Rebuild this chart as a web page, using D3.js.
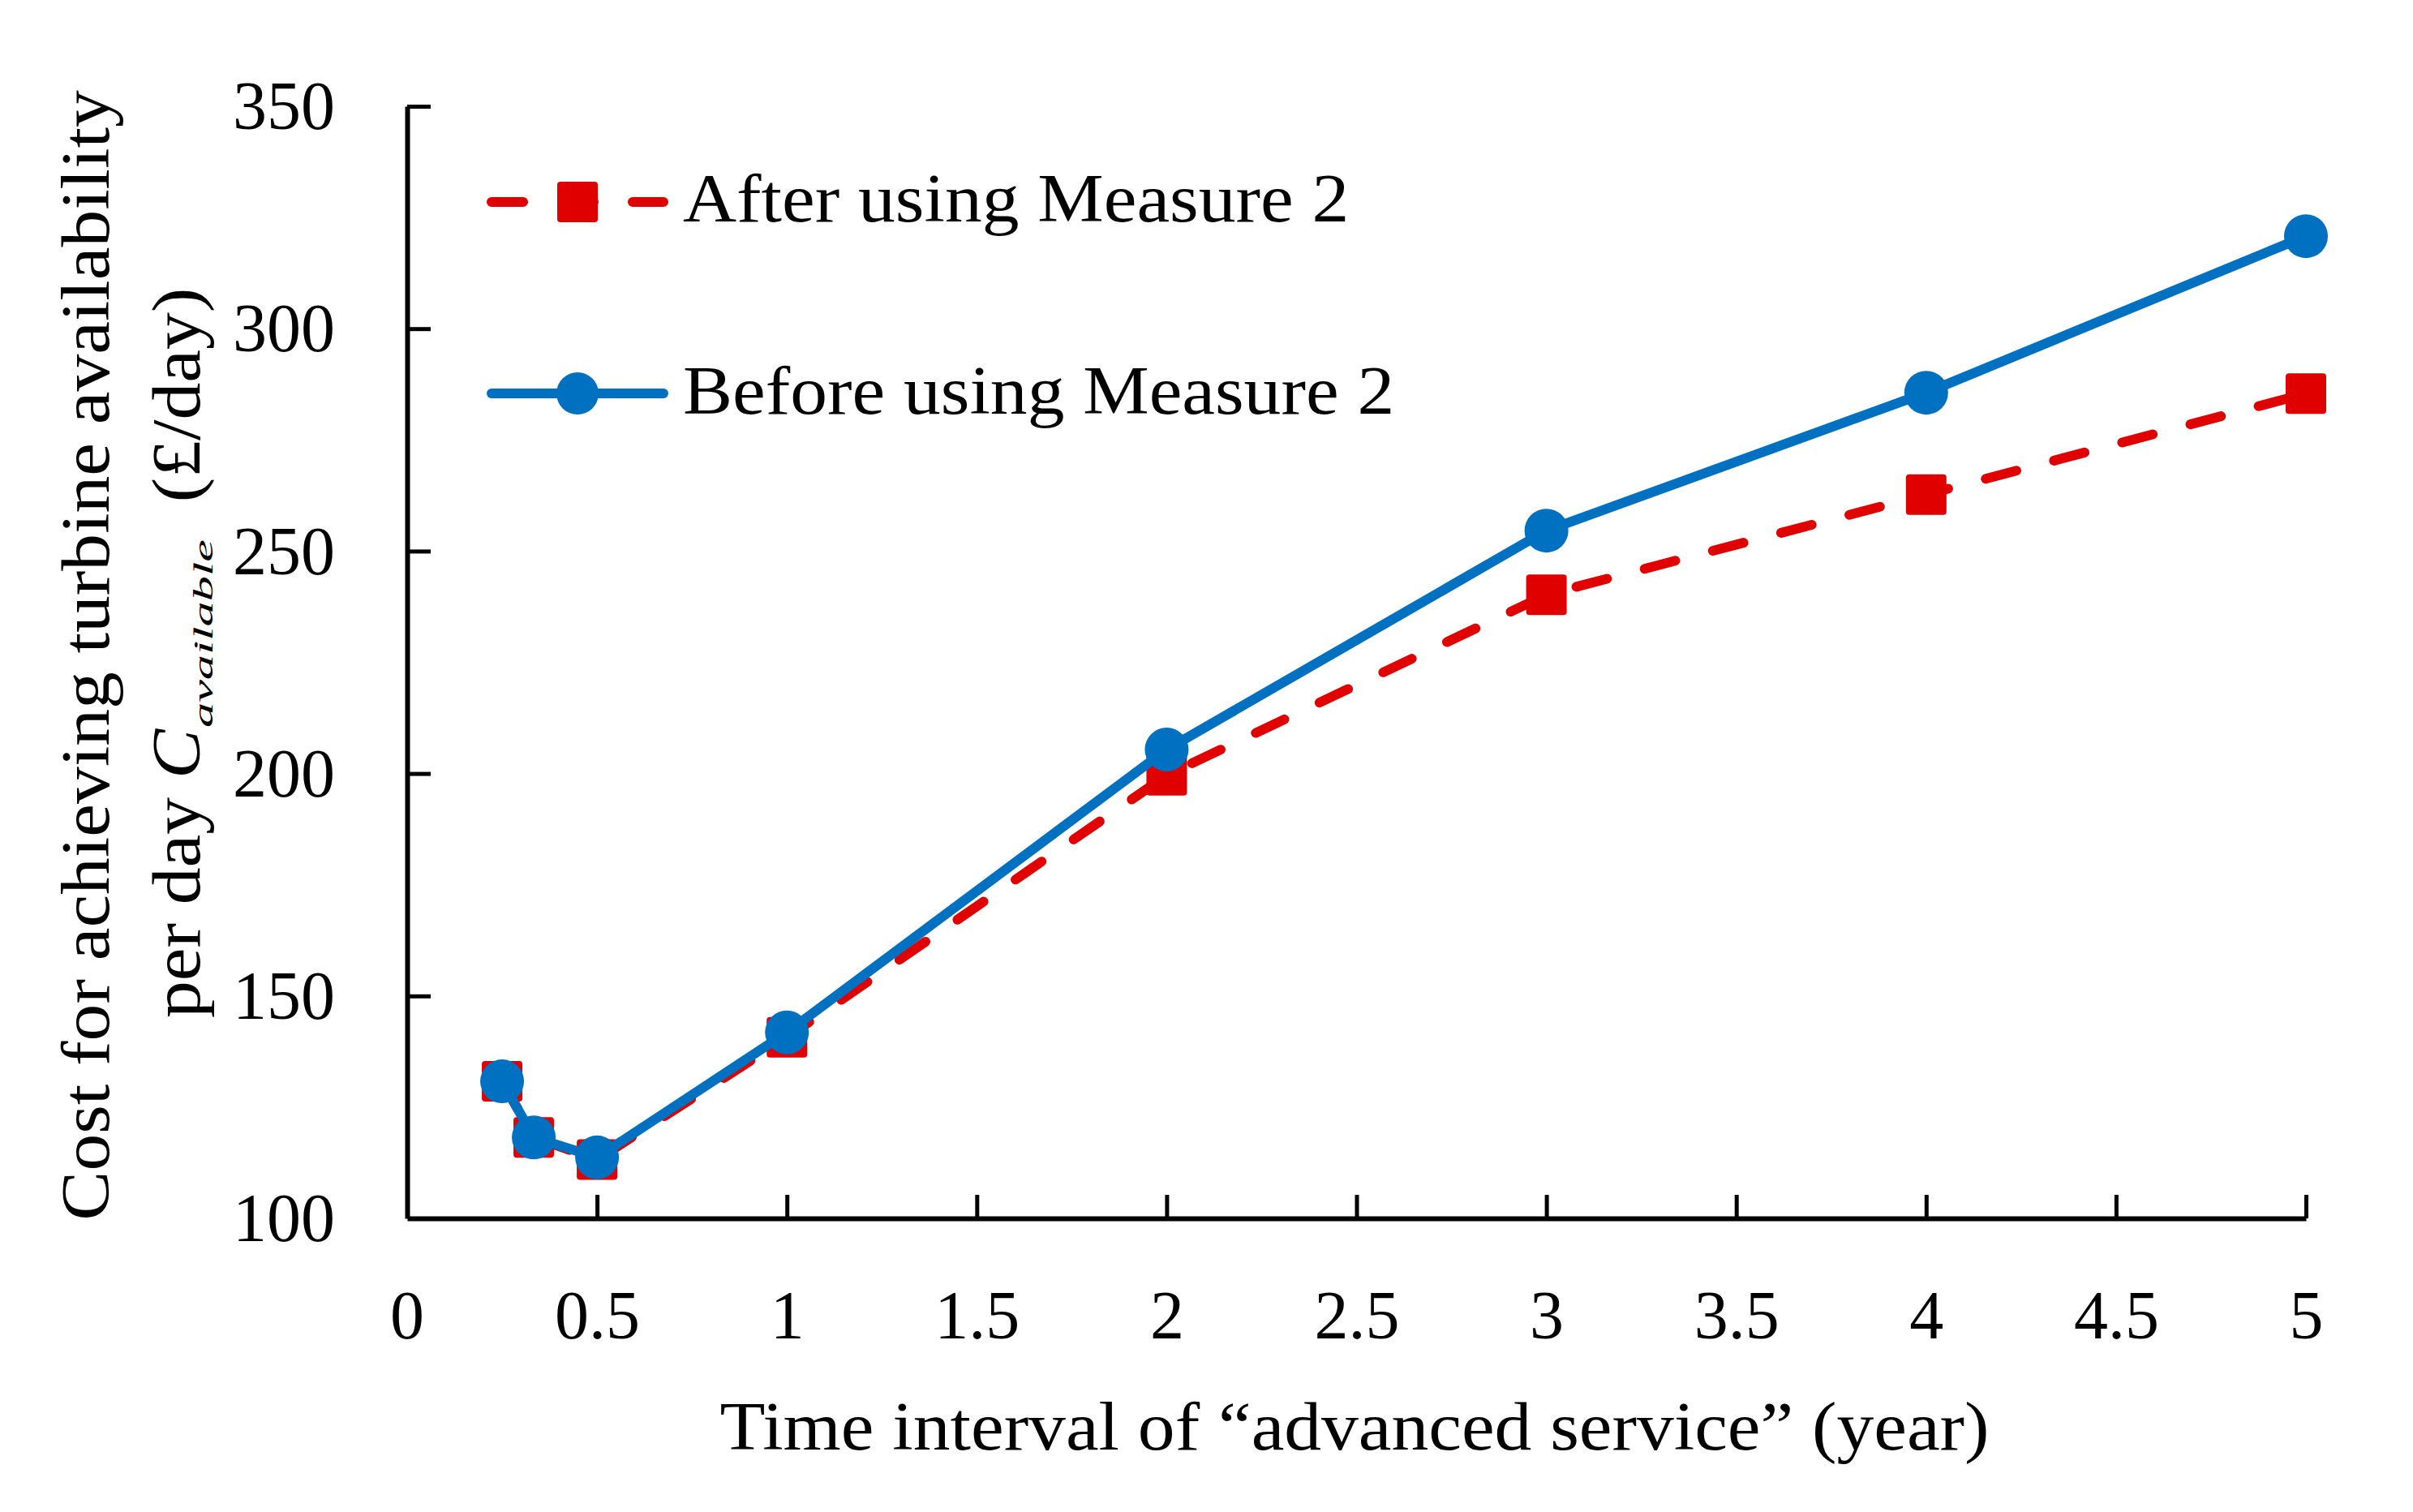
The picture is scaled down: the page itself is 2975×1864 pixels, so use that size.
<!DOCTYPE html>
<html>
<head>
<meta charset="utf-8">
<script src="https://cdn.jsdelivr.net/npm/d3@7"></script>
<style>
  body { margin: 0; background: #fff; }
  svg text { font-family: "Liberation Serif", "Times New Roman", serif; fill: #000; }
</style>
</head>
<body>
<div id="chart"></div>
<script>
// data
const intervals = [0.25, 1 / 3, 0.5, 1, 2, 3, 4, 5];
const afterMeasure = [130.8, 118.2, 113.2, 140.7, 199.6, 240.2, 262.7, 285.4];
const beforeMeasure = [130.8, 118.2, 113.7, 141.8, 205.4, 254.6, 285.6, 320.8];
const xTicks = [0.5, 1, 1.5, 2, 2.5, 3, 3.5, 4, 4.5, 5];
const yTicks = [100, 150, 200, 250, 300, 350];
const seriesNames = ["After using Measure 2", "Before using Measure 2"];

const W = 2975, H = 1864;
const RED = "#e00000", BLUE = "#0070c0";
const FS = 84;
const WIDEN = 1.09; // original font (Palatino) runs wider than Times

// stretch a text horizontally, keeping its height
function widen(sel, f = WIDEN) {
  const w = sel.node().getComputedTextLength();
  sel.attr("textLength", w * f).attr("lengthAdjust", "spacingAndGlyphs");
  return w * f;
}

const svg = d3.select("#chart").append("svg")
  .attr("width", W).attr("height", H);

const x = d3.scaleLinear().domain([0, 5]).range([502, 2843]);
const y = d3.scaleLinear().domain([100, 350]).range([1502, 131]);

// axes
const xAxis = svg.append("g")
  .attr("transform", `translate(0,${y(100)})`)
  .call(d3.axisBottom(x).tickValues(xTicks).tickSizeInner(-29).tickSizeOuter(0)
    .tickPadding(0).tickFormat(d => d));
const yAxis = svg.append("g")
  .attr("transform", `translate(${x(0)},0)`)
  .call(d3.axisLeft(y).tickValues(yTicks).tickSizeInner(-29).tickSizeOuter(0)
    .tickPadding(89));

[xAxis, yAxis].forEach(g => {
  g.select(".domain").attr("stroke", "#000").attr("stroke-width", 6);
  g.selectAll(".tick line").attr("stroke", "#000").attr("stroke-width", 5);
  g.selectAll(".tick text").attr("font-size", FS).style("font-family", null);
});
xAxis.selectAll(".tick text").attr("y", 148).attr("dy", null);
yAxis.selectAll(".tick text").attr("dy", "0.33em");
// 0 label under the corner
xAxis.append("text").attr("x", x(0)).attr("y", 148)
  .attr("text-anchor", "middle").attr("font-size", FS).attr("fill", "#000").text("0");
yAxis.select(".tick line").remove();

// x title
widen(svg.append("text")
  .attr("x", 1670).attr("y", 1787)
  .attr("text-anchor", "middle").attr("font-size", FS)
  .text("Time interval of \u201Cadvanced service\u201D (year)"));

// y title, two lines
widen(svg.append("text")
  .attr("transform", `translate(134,808) rotate(-90)`)
  .attr("text-anchor", "middle").attr("font-size", FS)
  .text("Cost for achieving turbine availability"));

const l2 = svg.append("g").attr("transform", `translate(246,1255) rotate(-90)`);
let u = 0;
const p1 = l2.append("text").attr("x", u).attr("font-size", FS).text("per day\u00A0");
u += widen(p1);
const p2 = l2.append("text").attr("x", u).attr("font-size", FS).attr("font-style", "italic").text("C");
u += widen(p2) + 2;
const sub = l2.append("text").attr("font-size", 34).attr("font-style", "italic").text("available");
const subW = sub.node().getComputedTextLength();
const subLen = 232;
sub.attr("transform", `translate(${u},16) scale(${subLen / subW},1)`);
u += subLen;
const p3 = l2.append("text").attr("x", u).attr("font-size", FS).text("\u00A0\u00A0(\u00A3/day)");
widen(p3);

// series
const after = intervals.map((d, i) => ({ x: d, y: afterMeasure[i] }));
const before = intervals.map((d, i) => ({ x: d, y: beforeMeasure[i] }));
const line = d3.line().x(d => x(d.x)).y(d => y(d.y));

svg.append("path").datum(after)
  .attr("d", line).attr("fill", "none")
  .attr("stroke", RED).attr("stroke-width", 12)
  .attr("stroke-dasharray", "39,48").attr("stroke-linecap", "round");
svg.selectAll("rect.after").data(after).enter().append("rect")
  .attr("class", "after")
  .attr("x", d => x(d.x) - 25).attr("y", d => y(d.y) - 25)
  .attr("width", 50).attr("height", 50).attr("rx", 4)
  .attr("fill", RED);

svg.append("path").datum(before)
  .attr("d", line).attr("fill", "none")
  .attr("stroke", BLUE).attr("stroke-width", 12)
  .attr("stroke-linejoin", "round");
svg.selectAll("circle.before").data(before).enter().append("circle")
  .attr("class", "before")
  .attr("cx", d => x(d.x)).attr("cy", d => y(d.y)).attr("r", 27)
  .attr("fill", BLUE);

// legend
const legend = svg.append("g");
legend.append("line").attr("x1", 606).attr("x2", 818).attr("y1", 249).attr("y2", 249)
  .attr("stroke", RED).attr("stroke-width", 12)
  .attr("stroke-dasharray", "39,48").attr("stroke-linecap", "round");
legend.append("rect").attr("x", 687).attr("y", 224).attr("width", 50).attr("height", 50)
  .attr("rx", 4).attr("fill", RED);
widen(legend.append("text").attr("x", 842).attr("y", 273).attr("font-size", FS).text(seriesNames[0]));

legend.append("line").attr("x1", 606).attr("x2", 818).attr("y1", 485).attr("y2", 485)
  .attr("stroke", BLUE).attr("stroke-width", 12).attr("stroke-linecap", "round");
legend.append("circle").attr("cx", 712).attr("cy", 485).attr("r", 26).attr("fill", BLUE);
widen(legend.append("text").attr("x", 842).attr("y", 510).attr("font-size", FS).text(seriesNames[1]));
</script>
</body>
</html>
